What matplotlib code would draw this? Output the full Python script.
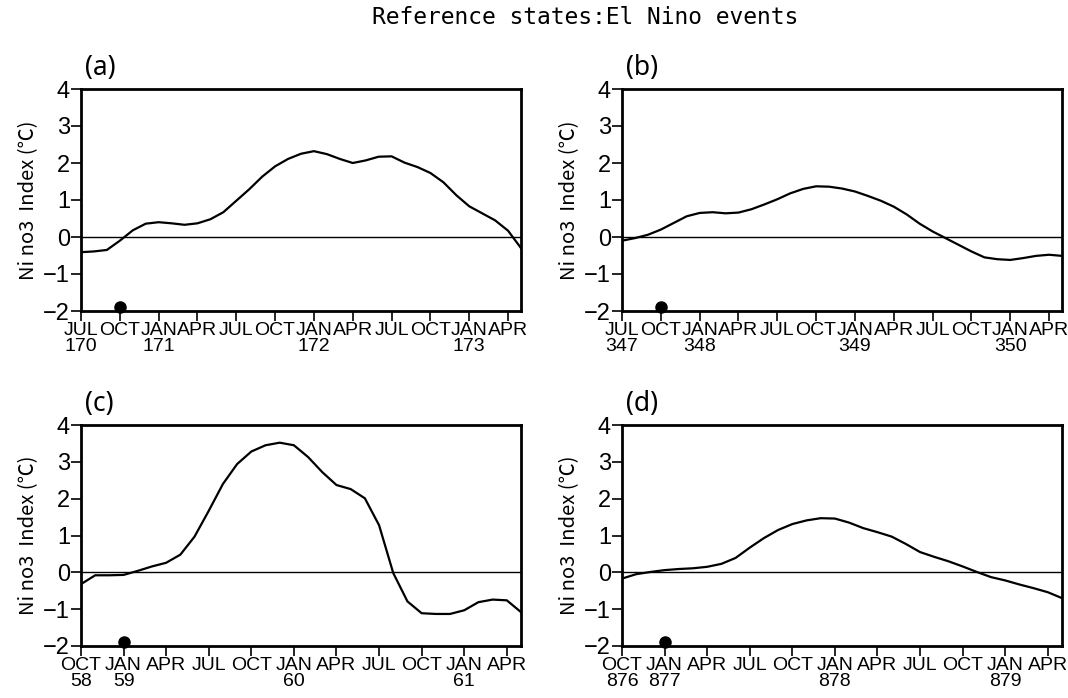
import matplotlib
matplotlib.use("Agg")
import matplotlib.pyplot as plt
from matplotlib import font_manager

# ---------------- data ----------------
nino_a = [-0.41, -0.39, -0.35, -0.10, 0.18, 0.36, 0.40, 0.37, 0.33, 0.37, 0.48, 0.67,
          0.98, 1.29, 1.63, 1.91, 2.11, 2.25, 2.32, 2.24, 2.11, 2.00, 2.07, 2.17,
          2.18, 2.01, 1.89, 1.73, 1.48, 1.13, 0.83, 0.64, 0.45, 0.17, -0.30]
nino_b = [-0.10, -0.03, 0.06, 0.20, 0.38, 0.56, 0.65, 0.67, 0.64, 0.66, 0.75, 0.88,
          1.02, 1.18, 1.30, 1.37, 1.36, 1.31, 1.23, 1.11, 0.98, 0.82, 0.61, 0.36,
          0.15, -0.03, -0.21, -0.39, -0.55, -0.60, -0.62, -0.57, -0.51, -0.48, -0.51]
nino_c = [-0.32, -0.08, -0.08, -0.07, 0.04, 0.16, 0.26, 0.48, 0.97, 1.67, 2.40, 2.94,
          3.28, 3.45, 3.52, 3.45, 3.13, 2.72, 2.37, 2.26, 2.01, 1.28, -0.02, -0.79,
          -1.11, -1.13, -1.13, -1.03, -0.81, -0.74, -0.76, -1.08]
nino_d = [-0.17, -0.05, 0.01, 0.06, 0.09, 0.11, 0.15, 0.23, 0.39, 0.67, 0.93, 1.15,
          1.31, 1.41, 1.47, 1.46, 1.35, 1.20, 1.09, 0.97, 0.77, 0.55, 0.42, 0.30,
          0.16, 0.01, -0.13, -0.22, -0.33, -0.43, -0.54, -0.70]

months_jul = ["JUL", "OCT", "JAN", "APR", "JUL", "OCT", "JAN", "APR", "JUL", "OCT", "JAN", "APR"]
months_oct = ["OCT", "JAN", "APR", "JUL", "OCT", "JAN", "APR", "JUL", "OCT", "JAN", "APR"]
years_a = {0: "170", 2: "171", 6: "172", 10: "173"}
years_b = {0: "347", 2: "348", 6: "349", 10: "350"}
years_c = {0: "58", 1: "59", 5: "60", 9: "61"}
years_d = {0: "876", 1: "877", 5: "878", 9: "879"}
event_month = {"a": 3, "b": 3, "c": 3, "d": 3}
panels = [("(a)", nino_a, months_jul, years_a, "a"),
          ("(b)", nino_b, months_jul, years_b, "b"),
          ("(c)", nino_c, months_oct, years_c, "c"),
          ("(d)", nino_d, months_oct, years_d, "d")]

# ---------------- fonts ----------------
avail = {f.name for f in font_manager.fontManager.ttflist}
tick_font = ["Liberation Sans Narrow", "DejaVu Sans"] if "Liberation Sans Narrow" in avail else ["Liberation Sans", "DejaVu Sans"]

fig = plt.figure(figsize=(10.68, 6.98), dpi=100)
W, H = 1068, 698
boxes = [(81, 89, 521, 311), (622, 89, 1062, 311),
         (81, 425, 521, 646), (622, 425, 1062, 646)]

for (lab, vals, mons, yrs, key), (x0, y0, x1, y1) in zip(panels, boxes):
    ax = fig.add_axes([x0 / W, 1 - y1 / H, (x1 - x0) / W, (y1 - y0) / H])
    n = len(vals)
    xs = list(range(n))
    ax.plot(xs, vals, color="black", lw=1.6, solid_joinstyle="round")
    ax.axhline(0, color="black", lw=1.0)
    ax.plot([event_month[key]], [-1.9], "o", color="black", ms=8, clip_on=False, zorder=5)
    ax.set_xlim(0, n - 1)
    ax.set_ylim(-2, 4)
    ticks = list(range(0, n, 3))
    labels = []
    for i, t in enumerate(ticks):
        m = mons[i]
        if i in yrs:
            labels.append(m + "\n" + yrs[i])
        else:
            labels.append(m)
    ax.set_xticks(ticks)
    ax.set_xticklabels(labels, family=tick_font, fontsize=14, linespacing=0.95)
    ax.set_yticks(range(-2, 5))
    ax.set_yticklabels(["\u22122", "\u22121", "0", "1", "2", "3", "4"], family=tick_font, fontsize=17)
    ax.tick_params(axis="both", direction="out", length=7, width=1.2, pad=1)
    for s in ax.spines.values():
        s.set_linewidth(2.0)
    ax.set_ylabel("Ni no3  Index (\u2103)", family=["Noto Sans CJK SC", "DejaVu Sans"], fontsize=14.5, labelpad=3)
    ax.text(0.01, 1.03, lab, transform=ax.transAxes, fontsize=19,
            family=["Noto Sans", "DejaVu Sans"], ha="left", va="bottom")

fig.text(585 / W, 1 - 18 / H, "Reference states:El Nino events", ha="center", va="center",
         family="DejaVu Sans Mono", fontsize=16.5)

fig.savefig("out.png", dpi=100)
